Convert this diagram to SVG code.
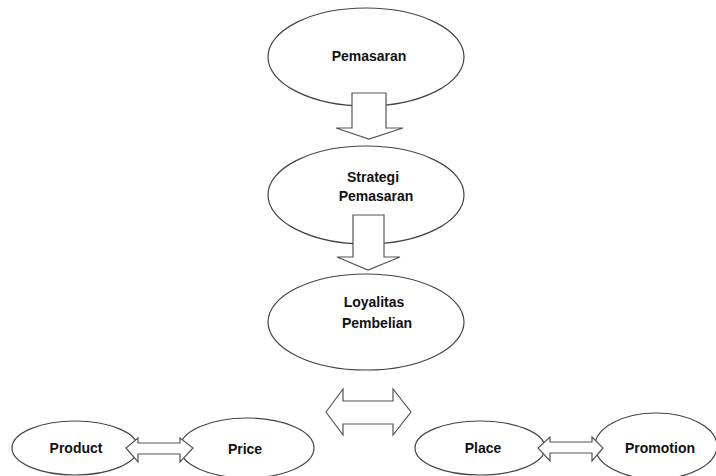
<svg xmlns="http://www.w3.org/2000/svg" width="716" height="476" viewBox="0 0 716 476">
<style>
.n{fill:#fff;stroke:#444;stroke-width:1.2}
.a{fill:#fff;stroke:#555;stroke-width:1.2;stroke-linejoin:miter}
text{font-family:"Liberation Sans",Arial,sans-serif;font-weight:bold;font-size:14px;fill:#111;text-anchor:middle}
</style>
<rect width="716" height="476" fill="#fff"/>
<g id="node-pemasaran"><ellipse class="n" cx="366" cy="57" rx="98" ry="49"/><text x="369" y="61">Pemasaran</text></g>
<g id="node-strategi"><ellipse class="n" cx="366" cy="195" rx="98" ry="49"/><text x="373" y="182">Strategi</text><text x="376" y="201">Pemasaran</text></g>
<g id="node-loyalitas"><ellipse class="n" cx="366" cy="322" rx="98" ry="48"/><text x="374" y="307">Loyalitas</text><text x="377" y="328">Pembelian</text></g>
<g id="node-product"><ellipse class="n" cx="75" cy="448" rx="63" ry="27"/><text x="76" y="453">Product</text></g>
<g id="node-price"><ellipse class="n" cx="247" cy="448" rx="67" ry="30"/><text x="245" y="454">Price</text></g>
<g id="node-place"><ellipse class="n" cx="480" cy="448" rx="65" ry="27"/><text x="483" y="453">Place</text></g>
<g id="node-promotion"><ellipse class="n" cx="656" cy="446" rx="61" ry="33"/><text x="660" y="453">Promotion</text></g>
<g id="connectors">
<polygon class="a" points="352,93 386,93 386,128 403,128 369,139 336,128 352,128"/>
<polygon class="a" points="353,215 384,215 384,257 400,257 368,270 337,257 353,257"/>
<polygon class="a" points="326,412 343,389 343,401 393,401 393,389 411,412 393,435 393,424 343,424 343,435"/>
<polygon class="a" points="126,448 138,438 138,443 180,443 180,438 193,448 180,462 180,454 138,454 138,462"/>
<polygon class="a" points="538,448 550,437 550,442 592,442 592,437 603,448 592,461 592,453 550,453 550,461"/>
</g>
</svg>
